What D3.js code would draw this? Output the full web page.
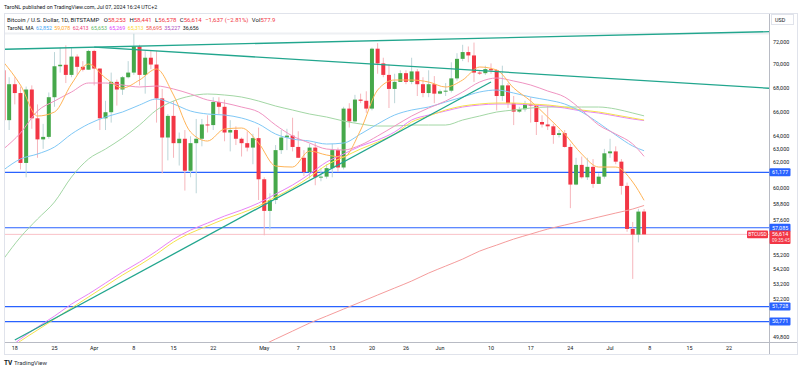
<!DOCTYPE html>
<html lang="en">
<head>
<meta charset="UTF-8">
<title>BTCUSD 1D</title>
<script src="https://d3js.org/d3.v7.min.js"></script>
<style>
  body { margin: 0; background: #fff; }
  svg { display: block; font-family: Roboto, "Liberation Sans", sans-serif; }
  .tick { fill: #131722; font-size: 5.4px; }
</style>
</head>
<body>
<svg width="800" height="370"></svg>
<script>
// daily bars from Mar 16, 2024 (Bitstamp BTC/USD)
var firstDay = "2024-03-16";
var open = [69500,65300,68300,67550,61900,67850,65450,63750,63950,67200,69850,69980,69100,70700,69800,69550,
  71200,69650,65450,65950,68500,67850,68900,69300,71600,69100,70600,70000,67100,63900,65650,63450,63800,61300,63450,63800,64950,64900,66800,66400,64300,64500,63800,63450,63100,63850,
  60650,58300,59100,62900,63900,64050,63150,62300,61200,63100,60800,60850,61500,62900,61550,66250,65200,67000,66900,66250,71400,70100,69100,67900,68500,69250,68500,69400,68300,67550,68300,
  67500,67700,67750,68800,70500,71100,70800,69300,69250,69600,69500,67300,68200,66700,66000,66200,66600,66500,65150,64950,64800,64100,64250,63150,60250,61750,60800,61600,60300,60850,
  62650,62800,62000,60150,57000,56600,58253];
var high = [70000,68900,68900,68100,68100,68200,66600,65000,67600,71100,71500,71700,71500,70900,70300,71300,
  71300,69650,66900,69300,68700,69000,70300,72750,71750,71200,71250,71200,67900,65800,66900,64300,64500,64000,65400,65400,65700,67200,67200,67000,65300,64800,63900,64400,64200,64700,
  60800,59600,63300,64500,64600,65500,64400,62900,63400,63500,61500,61800,63400,63100,66400,66700,67400,67500,67700,71500,71900,70600,70000,69200,69500,69500,70600,69600,68900,69500,69000,
  67850,68400,70200,71000,71750,71600,71950,69500,69900,70100,69600,69900,68400,67300,66400,66900,67200,66600,65700,66500,65000,64500,64500,63400,62300,62400,62300,62200,61100,63000,
  63800,63200,62200,60400,57500,58450,58441];
var low = [64800,64500,66600,61400,60800,64600,62300,63000,63800,66400,69300,68400,68900,69100,69400,69550,
  68200,64500,64500,65100,66500,67400,68800,69100,68200,67500,69600,65100,61100,62100,62300,61700,59800,60800,59600,63200,64300,64500,65800,63600,62800,63300,62400,62800,61800,59100,
  56550,56950,58800,62600,62900,62800,62300,60900,60700,60200,60500,60700,60800,61200,61400,64700,65100,66700,65900,66100,69200,68900,66300,66700,68500,68300,68300,67300,67200,67200,66700,
  67450,67300,67600,68600,70300,70200,68500,69100,69100,69200,66100,66900,66300,64900,65900,66000,65100,64100,64700,64500,63400,63900,63100,58500,60200,60700,60600,60000,60300,60700,
  62300,61800,59500,56800,53550,56050,56578];
var close = [65300,68300,67550,61900,67850,65450,63750,63950,67200,69850,69980,69100,70700,69800,69550,71200,
  69650,65450,65950,68500,67850,68900,69300,71600,69100,70600,70000,67100,63900,65650,63450,63800,61300,63450,63800,64950,64900,66800,66400,64300,64500,63800,63450,63100,63850,60650,
  58300,59100,62900,63900,64050,63150,62300,61200,63100,60800,60850,61500,62900,61550,66250,65200,67000,66900,66250,71400,70100,69100,67900,68500,69250,68500,69400,68300,67550,68300,67500,
  67700,67750,68800,70500,71100,70800,69300,69250,69600,69500,67300,68200,66700,66000,66200,66600,66500,65150,64950,64800,64100,64250,63150,60250,61750,60800,61600,60300,60850,62650,
  62800,62000,60150,57000,56600,58250,56614];

// moving averages, read every 3 days
var maDates = ["2024-03-16","2024-03-19","2024-03-22","2024-03-25","2024-03-28","2024-03-31","2024-04-03","2024-04-06","2024-04-09","2024-04-12",
  "2024-04-15","2024-04-18","2024-04-21","2024-04-24","2024-04-27","2024-04-30","2024-05-03","2024-05-06","2024-05-09","2024-05-12",
  "2024-05-15","2024-05-18","2024-05-21","2024-05-24","2024-05-27","2024-05-30","2024-06-02","2024-06-05","2024-06-08","2024-06-11",
  "2024-06-14","2024-06-17","2024-06-20","2024-06-23","2024-06-26","2024-06-29","2024-07-02","2024-07-05","2024-07-07"];
var maBlue = [61354,62204,62594,63144,64179,64986,65557,65968,66548,67049,66631,66050,65803,65721,65475,64986,64179,63779,63620,63382,
  63461,64179,64986,65721,66133,66381,66798,67216,67638,67807,67553,67216,66965,66631,65968,65067,64099,63223,62852];
var maOrange = [70222,68232,65639,65968,68318,70047,68832,67977,68660,69610,67385,64339,63620,64581,64662,63461,61662,61585,62829,62516,
  62360,64500,67807,68660,68660,68489,68062,68660,69785,69524,67977,66881,65557,64179,62594,61585,61585,60441,59078];
var maPink = [62986,64259,66050,66881,67638,68403,68403,68232,68062,68147,67892,67469,66965,66714,66381,65968,64904,64019,63461,62986,
  62908,63302,64019,64823,65639,66298,66881,67638,68489,68832,68574,68232,67722,67216,66133,64904,64179,63382,62413];
var maGreen = [54893,56423,57709,58949,60820,62204,62986,63859,64904,66133,66881,67300,67469,67385,67216,66881,66464,66133,65803,65557,
  65230,64986,64823,64823,64904,64904,64904,65311,65639,65968,66133,66298,66381,66381,66381,66381,66216,65885,65653];
var maViolet = [48870,49672,50420,51119,51892,52548,53273,54010,54689,55444,56282,56920,57420,57926,58362,58875,59541,60215,61048,61971,
  62594,63223,63699,64339,65311,65721,66050,66381,66548,66631,66631,66548,66464,66298,66050,65885,65639,65393,65269];
var maYellow = [48748,49548,50233,50927,51633,52352,53075,53808,54485,55236,56074,56707,57206,57709,58143,58655,59327,59989,60820,61739,
  62360,62986,63540,64179,65148,65639,66133,66464,66631,66714,66714,66631,66548,66381,66133,65968,65721,65475,65313];
var maSalmon = [null,null,null,null,null,null,null,null,null,null,null,null,null,48202,48687,49177,49672,50169,50673,51119,
  51569,52022,52483,52942,53407,53942,54416,54893,55444,55861,56282,56636,56991,57277,57564,57853,58143,58435,58695];

var maLegend = ["62,852","59,078","62,413","65,653","65,269","65,313","58,695","35,227","36,656"];
var maLegendColors = ["#42a5f5","#ffa726","#ec407a","#66bb6a","#e040fb","#fdd835","#ef5350","#ab47bc","#131722"];

var priceTicks = [72000,70000,68000,66000,64000,63000,62000,60000,58800,57600,55200,54200,53200,52200,49800];
var timeTicks = [["2024-03-18","18"],["2024-03-25","25"],["2024-04-01","Apr"],["2024-04-08","8"],["2024-04-15","15"],["2024-04-22","22"],
  ["2024-05-01","May"],["2024-05-07","7"],["2024-05-13","13"],["2024-05-20","20"],["2024-05-26","26"],["2024-06-01","Jun"],["2024-06-10","10"],
  ["2024-06-17","17"],["2024-06-24","24"],["2024-07-01","Jul"],["2024-07-08","8"],["2024-07-15","15"],["2024-07-22","22"]];
var levels = [61177, 57085, 51728, 50771];
var trendLines = [
  [["2024-03-16", 71346], ["2024-07-30", 72950]],
  [["2024-04-01", 71540], ["2024-07-30", 67930]],
  [["2024-03-18", 49612], ["2024-06-10", 68489]]
];

var parse = d3.utcParse("%Y-%m-%d");
var fmt = d3.format(",");
var svg = d3.select("svg");

var x = d3.scaleUtc().domain([parse("2024-03-18"), parse("2024-07-22")]).range([14.8, 729.1]);
var y = d3.scaleLog().domain([49800, 72000]).range([337, 42]);

var start = parse(firstDay);
var bars = close.map(function (c, i) {
    return {date: d3.utcDay.offset(start, i), o: open[i], h: high[i], l: low[i], c: c};
});

// frame
svg.append("text").attr("x", 4).attr("y", 8.5).attr("font-size", 5.3).attr("fill", "#131722")
    .text("TaroNL published on TradingView.com, Jul 07, 2024 16:24 UTC+2");
svg.append("rect").attr("x", 4.5).attr("y", 13.5).attr("width", 793).attr("height", 341)
    .attr("fill", "none").attr("stroke", "#e0e3eb");
svg.append("line").attr("x1", 5).attr("x2", 769).attr("y1", 33.5).attr("y2", 33.5)
    .attr("stroke", "#eef0f3").attr("stroke-width", 2);

svg.append("defs").append("clipPath").attr("id", "pane")
    .append("rect").attr("x", 5).attr("y", 14).attr("width", 764).attr("height", 328);
var pane = svg.append("g").attr("clip-path", "url(#pane)");

// horizontal levels and last price line
pane.selectAll("line.level").data(levels).join("line").attr("class", "level")
    .attr("x1", 5).attr("x2", 769).attr("y1", d => y(d)).attr("y2", d => y(d))
    .attr("stroke", "#2962ff").attr("stroke-width", 1.2);
pane.append("line").attr("x1", 5).attr("x2", 769)
    .attr("y1", y(close[close.length - 1])).attr("y2", y(close[close.length - 1]))
    .attr("stroke", "#f7b3b9").attr("stroke-width", 0.8);

// candles
var up = d => d.c >= d.o;
pane.selectAll("rect.wick").data(bars).join("rect").attr("class", "wick")
    .attr("x", d => x(d.date) - 0.5).attr("width", 1)
    .attr("y", d => y(d.h)).attr("height", d => y(d.l) - y(d.h))
    .attr("fill", d => up(d) ? "#bcd5d8" : "#f6b6bc");
pane.selectAll("rect.body").data(bars).join("rect").attr("class", "body")
    .attr("x", d => x(d.date) - 2).attr("width", 4)
    .attr("y", d => y(Math.max(d.o, d.c)))
    .attr("height", d => Math.max(1, Math.abs(y(d.o) - y(d.c))))
    .attr("fill", d => up(d) ? "#46a84a" : "#f23645");

// moving averages
var maSeries = [
    [maGreen, "#a3d7a5"], [maViolet, "#e883f7"], [maYellow, "#f5e24c"], [maSalmon, "#f59c9c"],
    [maBlue, "#7fc8f6"], [maPink, "#f094c2"], [maOrange, "#ffb457"]
];
var maLine = d3.line()
    .defined(d => d[1] != null)
    .x(d => x(parse(d[0])))
    .y(d => y(d[1]))
    .curve(d3.curveMonotoneX);
maSeries.forEach(function (s) {
    pane.append("path").datum(maDates.map((d, i) => [d, s[0][i]]))
        .attr("d", maLine).attr("fill", "none").attr("stroke", s[1]).attr("stroke-width", 1);
});

// trend lines
pane.selectAll("line.trend").data(trendLines).join("line").attr("class", "trend")
    .attr("x1", d => x(parse(d[0][0]))).attr("y1", d => y(d[0][1]))
    .attr("x2", d => x(parse(d[1][0]))).attr("y2", d => y(d[1][1]))
    .attr("stroke", "#22a68e").attr("stroke-width", 1.3);

// axes
svg.append("line").attr("x1", 769.5).attr("x2", 769.5).attr("y1", 14).attr("y2", 354)
    .attr("stroke", "#b8bbc4");
svg.append("line").attr("x1", 5).attr("x2", 797).attr("y1", 342.5).attr("y2", 342.5)
    .attr("stroke", "#b8bbc4");

svg.append("g").selectAll("text").data(priceTicks).join("text").attr("class", "tick")
    .attr("x", 773).attr("y", d => y(d)).attr("dy", "0.35em").text(d => fmt(d));

svg.append("g").selectAll("text").data(timeTicks).join("text").attr("class", "tick")
    .attr("x", d => x(parse(d[0]))).attr("y", 349.5).attr("text-anchor", "middle").text(d => d[1]);

// USD box
svg.append("rect").attr("x", 771.5).attr("y", 14.5).attr("width", 22).attr("height", 10)
    .attr("fill", "#fff").attr("stroke", "#e0e3eb");
svg.append("text").attr("class", "tick").attr("x", 775).attr("y", 21.5).text("USD");

// level labels
var lab = svg.append("g");
levels.forEach(function (v) {
    lab.append("rect").attr("x", 769.5).attr("y", y(v) - 4).attr("width", 21).attr("height", 8)
        .attr("fill", "#2962ff").attr("rx", 1);
    lab.append("text").attr("x", 772).attr("y", y(v)).attr("dy", "0.35em")
        .attr("font-size", 5.4).attr("fill", "#fff").text(fmt(v));
});
var last = close[close.length - 1];
lab.append("rect").attr("x", 769.5).attr("y", y(last) - 4).attr("width", 21).attr("height", 13.5)
    .attr("fill", "#f23645").attr("rx", 1);
lab.append("text").attr("x", 772).attr("y", y(last)).attr("dy", "0.35em")
    .attr("font-size", 5.4).attr("fill", "#fff").text(fmt(last));
lab.append("text").attr("x", 772).attr("y", y(last) + 6).attr("dy", "0.35em")
    .attr("font-size", 4.6).attr("fill", "#fde2e4").text("09:35:45");
lab.append("rect").attr("x", 747).attr("y", y(last) - 3.8).attr("width", 21).attr("height", 7.6)
    .attr("fill", "#f23645").attr("rx", 1);
lab.append("text").attr("x", 757.5).attr("y", y(last)).attr("dy", "0.35em").attr("text-anchor", "middle")
    .attr("font-size", 5).attr("fill", "#fff").text("BTCUSD");

// legend
var red = "#f23645", ink = "#131722";
var l1 = svg.append("text").attr("x", 7).attr("y", 21.5).attr("font-size", 6).attr("fill", ink);
l1.append("tspan").text("Bitcoin / U.S. Dollar, 1D, BITSTAMP");
var lastBar = bars[bars.length - 1];
[["O", lastBar.o], ["H", lastBar.h], ["L", lastBar.l], ["C", lastBar.c]].forEach(function (p, i) {
    l1.append("tspan").attr("dx", i ? 3.4 : 4.5).text(p[0]);
    l1.append("tspan").attr("fill", red).text(fmt(p[1]));
});
l1.append("tspan").attr("dx", 3.4).attr("fill", red).text("\u22121,637 (\u22122.81%)");
l1.append("tspan").attr("dx", 3.4).text("Vol");
l1.append("tspan").attr("fill", red).text("577.9");

var l2 = svg.append("text").attr("x", 7).attr("y", 29.5).attr("font-size", 5.3).attr("fill", ink);
l2.append("tspan").text("TaroNL MA");
maLegend.forEach(function (v, i) {
    l2.append("tspan").attr("dx", 2.4).attr("fill", maLegendColors[i]).text(v);
});

// footer
svg.append("text").attr("x", 4).attr("y", 364.5).attr("font-size", 6.5).attr("font-weight", "bold")
    .attr("fill", ink).text("TV");
svg.append("text").attr("x", 14).attr("y", 364.5).attr("font-size", 6).attr("fill", "#2a2e39")
    .text("TradingView");
</script>
</body>
</html>
